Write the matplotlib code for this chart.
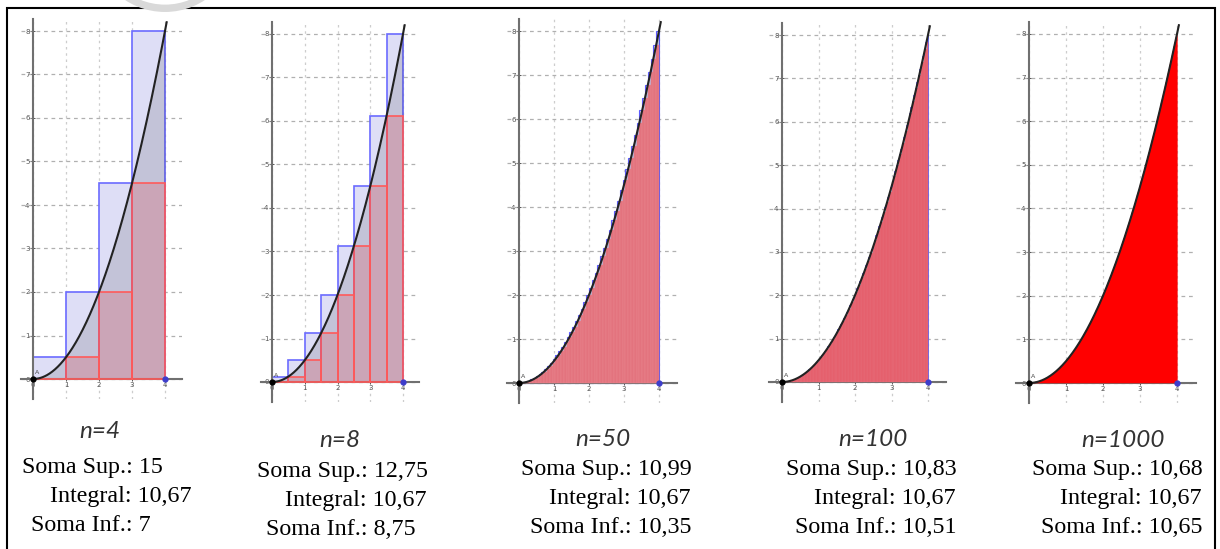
import numpy as np
import matplotlib.pyplot as plt
from matplotlib.patches import Rectangle, Circle

# f(x) = x^2 / 2 on [0, 4], upper / lower Riemann sums
a, b = 0, 4
n_values = [4, 8, 50, 100, 1000]
soma_sup = ['15', '12,75', '10,99', '10,83', '10,68']
integral = ['10,67', '10,67', '10,67', '10,67', '10,67']
soma_inf = ['7', '8,75', '10,35', '10,51', '10,65']
x_ticks = [0, 1, 2, 3, 4]
y_ticks = [0, 1, 2, 3, 4, 5, 6, 7, 8]


def f(x):
    return x ** 2 / 2


W, H = 1220, 549
fig = plt.figure(figsize=(W / 100, H / 100), dpi=100)

# pixel position of x=0, x=4, y=0, y=8 in each panel
calib = [
    (33, 165, 379, 31),
    (272, 403, 382, 34),
    (519, 659, 383, 31),
    (782, 928, 382, 35),
    (1029, 1177, 383, 34),
]

# bar styles per panel
lower_face = [(1, 0, 0, 0.15), (1, 0, 0, 0.15), '#e3737e', '#e55d6b', '#ff0000']
lower_edge = ['#ff5a5a', '#ff5a5a', '#ea8890', '#e87580', '#ff0000']
lower_lw = [1.2, 1.2, 0.3, 0.2, 0.3]
upper_edge = ['#6b6bff', '#6b6bff', '#5a5aff', '#5a5aff', 'none']
upper_lw = [1.2, 1.2, 0.8, 0.6, 0]

xl, xr = -0.35, 4.5
yb, yt = -0.45, 8.28

for i, n in enumerate(n_values):
    x0, x4, y0, y8 = calib[i]
    ux = (x4 - x0) / 4
    uy = (y0 - y8) / 8
    left = x0 + xl * ux
    right = x0 + xr * ux
    top = y0 - yt * uy
    bottom = y0 - yb * uy
    ax = fig.add_axes([left / W, 1 - bottom / H, (right - left) / W, (bottom - top) / H])
    ax.set_facecolor('none')
    ax.set_xlim(xl, xr)
    ax.set_ylim(yb, yt)

    dx = (b - a) / n
    xs = a + dx * np.arange(n)
    ax.bar(xs, f(xs + dx), width=dx, align='edge', color='#dedef6',
           edgecolor=upper_edge[i], lw=upper_lw[i], zorder=2)
    xx = np.linspace(a, b, 400)
    ax.fill_between(xx, f(xx), color='black', alpha=0.12, lw=0, zorder=2.2)
    ax.bar(xs, f(xs), width=dx, align='edge', color=lower_face[i],
           edgecolor=lower_edge[i], lw=lower_lw[i], zorder=3)
    xc = np.linspace(0, 4.05, 400)
    ax.plot(xc, f(xc), color='#222222', lw=1.5, zorder=4)

    ax.plot([0], [0], 'o', color='black', ms=3.5, zorder=5)
    ax.plot([4], [0], 'o', color='#3d3dcc', ms=3.5, zorder=5)
    ax.text(0.06, 0.12, 'A', fontsize=4.5, color='#444444')

    for s in ['top', 'right']:
        ax.spines[s].set_visible(False)
    for s in ['left', 'bottom']:
        ax.spines[s].set_position(('data', 0))
        ax.spines[s].set_color('#707070')
        ax.spines[s].set_linewidth(1.5)
    ax.set_xticks(x_ticks)
    ax.set_yticks(y_ticks)
    ax.tick_params(labelsize=5, colors='#555555', length=3, width=0.7,
                   direction='inout', pad=1)
    ax.set_axisbelow(True)
    ax.yaxis.grid(True, color='#b0b0b0', ls=(0, (3, 3)), lw=0.9)
    ax.xaxis.grid(True, color='#cdcdcd', ls=(0, (2, 3)), lw=0.9)

# text block under each panel
sup_left = [22, 257, 521, 786, 1032]
label_center = [100, 340, 603, 873, 1123]
label_base = [438, 447, 446, 446, 447]
row_base = [473, 477, 475, 475, 475]
serif = dict(family='Liberation Serif', fontsize=17.3, color='black', va='baseline')
for i, n in enumerate(n_values):
    fig.text(label_center[i] / W, 1 - label_base[i] / H, 'n=%d' % n,
             family='Lato', style='italic', fontsize=17.5, color='#333333',
             ha='center', va='baseline')
    rows = ['Soma Sup.: ' + soma_sup[i], 'Integral: ' + integral[i],
            'Soma Inf.: ' + soma_inf[i]]
    offs = [0, 28, 9]
    for k, s in enumerate(rows):
        fig.text((sup_left[i] + offs[k]) / W, 1 - (row_base[i] + 29 * k) / H, s,
                 ha='left', **serif)

# outer frame and watermark ring
fig.add_artist(Rectangle((7 / W, -0.02), (1215 - 7) / W, (549 - 8) / H + 0.02,
                         transform=fig.transFigure, fill=False, lw=1.5,
                         ec='black'))
fig.add_artist(Circle((1.65, 6.097), 0.69, transform=fig.dpi_scale_trans,
                      fill=False, ec='#d9d9d9', lw=5.3, zorder=10))

fig.savefig('out.png', dpi=100)
